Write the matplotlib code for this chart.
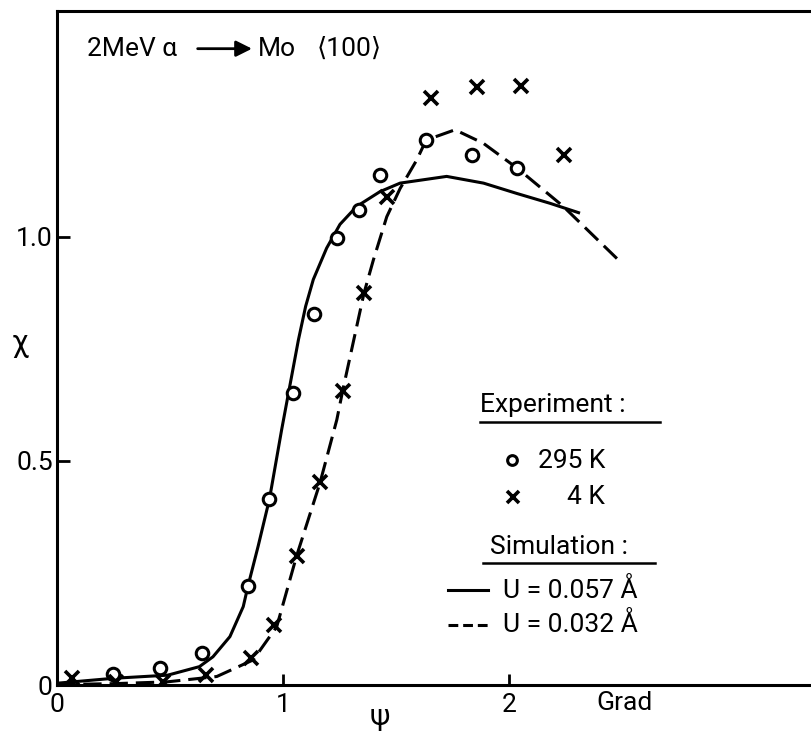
import matplotlib
matplotlib.use('Agg')
import matplotlib.pyplot as plt

plt.rcParams['font.family'] = ['Roboto', 'DejaVu Sans']

# measured dechanneling points
t295_x = [0.248, 0.456, 0.642, 0.845, 0.94, 1.043, 1.137, 1.24, 1.336, 1.43, 1.633, 1.836, 2.035]
t295_y = [0.025, 0.038, 0.071, 0.221, 0.415, 0.652, 0.828, 0.998, 1.06, 1.138, 1.216, 1.183, 1.154]
t4_x = [0.066, 0.26, 0.47, 0.66, 0.858, 0.96, 1.06, 1.164, 1.264, 1.358, 1.46, 1.655, 1.858, 2.053, 2.243]
t4_y = [0.016, 0.007, 0.007, 0.022, 0.06, 0.134, 0.288, 0.452, 0.657, 0.875, 1.09, 1.31, 1.335, 1.337, 1.183]

# simulation curves
u057_x = [0.0, 0.25, 0.49, 0.63, 0.69, 0.765, 0.824, 0.845, 0.89, 0.94, 0.994, 1.031, 1.068, 1.1,
          1.134, 1.193, 1.252, 1.326, 1.429, 1.518, 1.724, 1.887, 2.034, 2.181, 2.314]
u057_y = [0.004, 0.015, 0.022, 0.041, 0.063, 0.108, 0.175, 0.221, 0.31, 0.415, 0.57, 0.67, 0.77, 0.845,
          0.905, 0.975, 1.028, 1.068, 1.101, 1.12, 1.135, 1.12, 1.097, 1.075, 1.053]
u032_x = [0.0, 0.25, 0.486, 0.707, 0.868, 0.972, 1.06, 1.164, 1.238, 1.264, 1.358, 1.4, 1.459, 1.518,
          1.592, 1.633, 1.761, 1.886, 2.037, 2.24, 2.491]
u032_y = [0.001, 0.003, 0.007, 0.019, 0.056, 0.13, 0.288, 0.452, 0.592, 0.657, 0.874, 0.949, 1.045, 1.108,
          1.172, 1.216, 1.239, 1.209, 1.153, 1.068, 0.945]

fig = plt.figure(figsize=(8.11, 7.31), dpi=100)
ax = fig.add_axes([0.0703, 0.0629, 0.9297, 0.922])

ax.plot(u057_x, u057_y, color='k', lw=2.2, solid_capstyle='butt', solid_joinstyle='round', zorder=2)
ax.plot(u032_x, u032_y, color='k', lw=2.2, dashes=(6, 2.6), zorder=2)
ax.plot(t295_x, t295_y, 'o', ms=9, mfc='white', mec='k', mew=2.2, ls='none', zorder=3)
ax.plot(t4_x, t4_y, 'x', ms=10, mec='k', mew=2.6, ls='none', zorder=3)

ax.set_xlim(0, 3.336)
ax.set_ylim(0, 1.504)
ax.spines['right'].set_visible(False)
for s in ('left', 'bottom', 'top'):
    ax.spines[s].set_linewidth(2.2)

ax.set_xticks([0, 1, 2])
ax.set_xticklabels(['0', '1', '2'])
ax.set_yticks([0, 0.5, 1.0])
ax.set_yticklabels(['0', '0.5', '1.0'])
ax.tick_params(axis='x', direction='in', length=8, width=2, labelsize=19, pad=6)
ax.tick_params(axis='y', direction='in', length=9, width=2, labelsize=19, pad=3)

ax.text(2.513, -0.04, 'Grad', fontsize=19, ha='center', va='center', clip_on=False)
ax.text(1.43, -0.071, 'ψ', fontsize=21, ha='center', va='center', clip_on=False)
ax.text(-0.164, 0.763, 'χ', fontsize=22, ha='center', va='center', clip_on=False)

# heading
ax.text(0.133, 1.42, '2MeV α', fontsize=19, ha='left', va='center')
ax.annotate('', xy=(0.875, 1.42), xytext=(0.61, 1.42),
            arrowprops=dict(arrowstyle='-|>', color='k', lw=2, mutation_scale=24))
ax.text(0.889, 1.42, 'Mo', fontsize=19, ha='left', va='center')
ax.text(1.15, 1.42, '⟨100⟩', fontsize=19, ha='left', va='center')

# key
fs = 19
ax.text(1.872, 0.625, 'Experiment :', fontsize=fs, ha='left', va='center')
ax.plot([1.872, 2.668], [0.587, 0.587], color='k', lw=1.8)
ax.plot(2.013, 0.502, 'o', ms=7, mfc='white', mec='k', mew=2.2)
ax.text(2.128, 0.5, '295 K', fontsize=fs, ha='left', va='center')
ax.plot(2.018, 0.42, 'x', ms=8, mec='k', mew=2.6)
ax.text(2.257, 0.42, '4 K', fontsize=fs, ha='left', va='center')
ax.text(1.916, 0.308, 'Simulation :', fontsize=fs, ha='left', va='center')
ax.plot([1.885, 2.646], [0.272, 0.272], color='k', lw=1.8)
ax.plot([1.73, 1.907], [0.212, 0.212], color='k', lw=2.2)
ax.text(1.973, 0.212, 'U = 0.057 Å', fontsize=fs, ha='left', va='center')
ax.plot([1.73, 1.907], [0.134, 0.134], color='k', lw=2.2, dashes=(3.2, 1.6))
ax.text(1.973, 0.134, 'U = 0.032 Å', fontsize=fs, ha='left', va='center')

fig.savefig('out.png', dpi=100)
